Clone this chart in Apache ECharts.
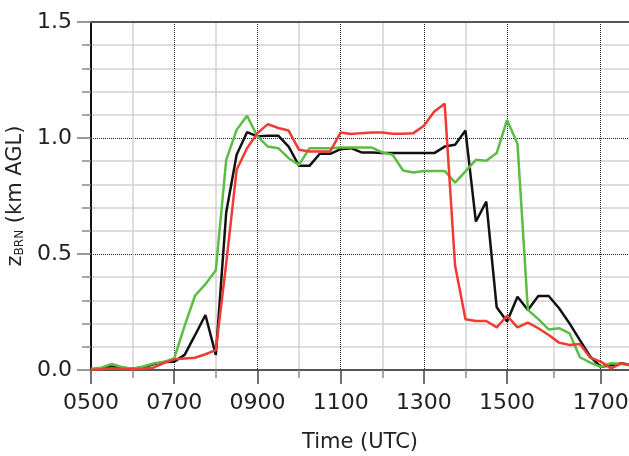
<!DOCTYPE html>
<html><head><meta charset="utf-8">
<script src="https://cdn.jsdelivr.net/npm/echarts@6/dist/echarts.min.js"></script>
<style>html,body{margin:0;padding:0;background:#fff}#c{width:629px;height:456px}</style>
</head><body><div id="c"></div>
<script>
// sample times (HHMM)
const times = ['0500','0515','0530','0545','0600','0615','0630','0645','0700','0715','0730','0745',
  '0800','0815','0830','0845','0900','0915','0930','0945','1000','1015','1030','1045',
  '1100','1115','1130','1145','1200','1215','1230','1245','1300','1315','1330','1345',
  '1400','1415','1430','1445','1500','1515','1530','1545','1600','1615','1630','1645',
  '1700','1715','1730','1745','1800'];
const blackVals = [0.0,0.005,0.015,0.01,0.005,0.012,0.025,0.035,0.036,0.065,0.15,0.237,
  0.065,0.68,0.928,1.025,1.007,1.01,1.01,0.963,0.88,0.88,0.932,0.932,
  0.952,0.956,0.938,0.938,0.935,0.935,0.935,0.935,0.935,0.935,0.963,0.971,
  1.032,0.64,0.726,0.27,0.209,0.316,0.259,0.319,0.319,0.266,0.201,0.129,
  0.058,0.014,0.02,0.029,0.02];
const greenVals = [0.005,0.01,0.026,0.012,0.005,0.015,0.028,0.035,0.05,0.19,0.32,0.37,
  0.43,0.906,1.035,1.096,1.007,0.963,0.956,0.913,0.884,0.956,0.956,0.956,
  0.959,0.959,0.959,0.959,0.938,0.928,0.86,0.851,0.858,0.858,0.858,0.808,
  0.856,0.906,0.902,0.935,1.078,0.975,0.259,0.219,0.175,0.18,0.158,0.055,
  0.032,0.014,0.029,0.026,0.018];
const redVals = [0.0,0.003,0.008,0.005,0.003,0.005,0.01,0.03,0.046,0.05,0.053,0.068,
  0.086,0.46,0.863,0.956,1.021,1.06,1.043,1.032,0.949,0.942,0.942,0.942,
  1.024,1.017,1.021,1.024,1.024,1.018,1.018,1.021,1.053,1.114,1.148,0.45,
  0.219,0.211,0.211,0.184,0.233,0.184,0.204,0.18,0.151,0.118,0.108,0.112,
  0.053,0.036,0.007,0.029,0.02];
// axis tick positions (axis hours) and labels
const majorTickPos = [5,7,9,11,13,15,17.25];
const majorTickLabels = ['0500','0700','0900','1100','1300','1500','1700'];
const minorTickPos = [6,8,10,12,14,16.13];

const FONT = 'DejaVu Sans';
const xs = times.map(s => +s.slice(0,2) + (+s.slice(2))/60);
const pairs = v => xs.map((x,i) => [x, v[i]]);
const X_MIN = 5, X_MAX = 17.93;

const chart = echarts.init(document.getElementById('c'), null, {renderer:'canvas'});
const majorLabel = v => {
  let best = 0, bd = 1e9;
  majorTickPos.forEach((p,i) => { const d = Math.abs(p - v); if (d < bd) { bd = d; best = i; } });
  return majorTickLabels[best];
};
const mkSeries = (name, vals, color) => ({
  name, type:'line', xAxisIndex:0, yAxisIndex:0, data: pairs(vals),
  showSymbol:false, symbol:'none', clip:true,
  lineStyle:{color, width:2.5}, itemStyle:{color}
});
chart.setOption({
  animation:false,
  grid:{left:91, right:0, top:22, bottom:86, containLabel:false, outerBoundsMode:'none'},
  xAxis:[
    {type:'value', min:X_MIN, max:X_MAX, position:'bottom',
     axisLine:{show:true, onZero:false, lineStyle:{color:'#555', width:2}},
     axisTick:{show:true, customValues:majorTickPos, length:14, lineStyle:{color:'#444', width:1.5}},
     axisLabel:{show:true, customValues:majorTickPos, formatter:majorLabel, margin:22,
       fontSize:22, color:'#222', fontFamily:FONT},
     splitLine:{show:true, lineStyle:{color:'#222', width:1, type:[1,1]}},
     name:'Time (UTC)', nameLocation:'middle', nameGap:62,
     nameTextStyle:{fontSize:21, color:'#222', fontFamily:FONT}},
    {type:'value', min:X_MIN, max:X_MAX, position:'bottom',
     axisLine:{show:false, onZero:false},
     axisTick:{show:true, customValues:minorTickPos, length:8, lineStyle:{color:'#888', width:1.5}},
     axisLabel:{show:false},
     splitLine:{show:true, lineStyle:{color:'#d2d2d2', width:1.5}}},
    {type:'value', min:X_MIN, max:X_MAX, position:'top',
     axisLine:{show:true, onZero:false, lineStyle:{color:'#555', width:2}},
     axisTick:{show:false}, axisLabel:{show:false}, splitLine:{show:false}}
  ],
  yAxis:{type:'value', min:0, max:1.5, interval:0.5,
    axisLine:{show:true, onZero:false, lineStyle:{color:'#111', width:2}},
    axisTick:{show:true, length:14, lineStyle:{color:'#777', width:1.5}},
    minorTick:{show:true, splitNumber:5, length:9, lineStyle:{color:'#888', width:1.5}},
    splitLine:{show:true, lineStyle:{color:'#222', width:1, type:[1,1]}},
    minorSplitLine:{show:true, lineStyle:{color:'#d2d2d2', width:1.5}},
    axisLabel:{formatter:v => v.toFixed(1), fontSize:22, margin:19, color:'#222', fontFamily:FONT},
    name:'{z|z}{s|BRN}{t| (km AGL)}', nameLocation:'middle', nameGap:49, nameRotate:90,
    nameTextStyle:{fontSize:21, color:'#222', fontFamily:FONT,
      rich:{
        z:{fontSize:21, lineHeight:21, verticalAlign:'top', color:'#222', fontFamily:FONT},
        s:{fontSize:12, lineHeight:12, verticalAlign:'bottom', padding:[14,0,0,0], color:'#222', fontFamily:FONT},
        t:{fontSize:21, lineHeight:21, verticalAlign:'top', color:'#222', fontFamily:FONT}
      }}
  },
  series:[
    mkSeries('black', blackVals, '#111111'),
    mkSeries('green', greenVals, '#5cbd45'),
    mkSeries('red', redVals, '#f23a33')
  ]
});
</script></body></html>
